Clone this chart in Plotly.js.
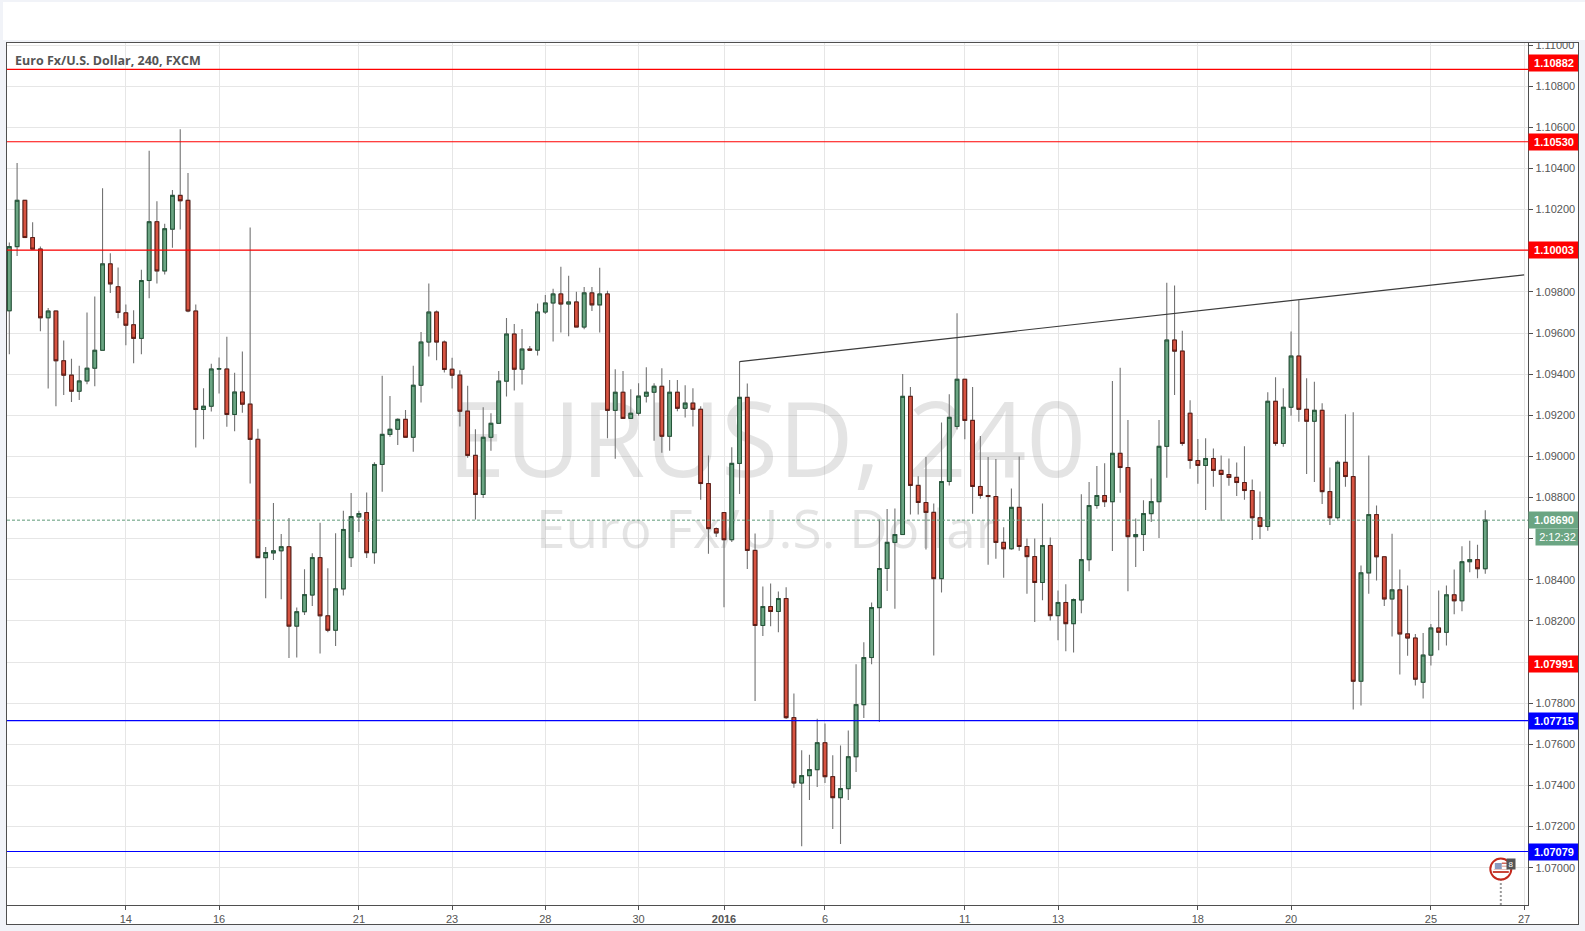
<!DOCTYPE html>
<html>
<head>
<meta charset="utf-8">
<script src="https://cdn.plot.ly/plotly-3.0.1.min.js"></script>
<style>
html,body{margin:0;padding:0;width:1585px;height:931px;overflow:hidden;background:#f1f3f8;}
#header{position:absolute;left:3px;top:2px;width:1582px;height:38px;background:#fff;}
#wrap{position:absolute;left:6px;top:43px;width:1572px;height:881px;background:#fff;overflow:hidden;}
#chart{width:1572px;height:881px;}
#frame{position:absolute;left:6px;top:42px;width:1571px;height:881px;border:1px solid #4f4f4f;pointer-events:none;}
</style>
</head>
<body>
<div id="header"></div>
<div id="wrap"><div id="chart"></div></div>
<div id="frame"></div>
<script>
const opens = [
1.09708,1.1002,1.10245,1.10064,1.10008,1.09674,1.09707,1.09465,1.09395,1.09317,
1.09367,1.09429,1.09516,1.09936,1.09825,1.09698,1.0964,1.09574,1.09855,1.10141,
1.09902,1.10105,1.10269,1.10245,1.09707,1.09228,1.09244,1.09425,1.09425,1.09204,
1.09313,1.09254,1.09083,1.08508,1.08531,1.08541,1.08561,1.08175,1.08245,1.08326,
1.08508,1.08225,1.08155,1.08356,1.08508,1.08706,1.08727,1.08532,1.08961,1.09107,
1.09132,1.0918,1.09093,1.09346,1.09556,1.09702,1.09556,1.09424,1.09395,1.0922,
1.09005,1.08815,1.09093,1.09161,1.09366,1.09595,1.09424,1.09522,1.09517,1.09702,
1.09746,1.0979,1.09741,1.09751,1.09629,1.09795,1.09737,1.0979,1.09224,1.09312,
1.09185,1.0921,1.09293,1.09312,1.09341,1.09098,1.09312,1.09234,1.09259,1.09229,
1.08868,1.08649,1.08727,1.08595,1.08966,1.09287,1.08543,1.08178,1.0827,1.08246,
1.08309,1.0773,1.07412,1.07448,1.07477,1.07608,1.07443,1.07341,1.07385,1.0754,
1.07793,1.08022,1.08265,1.08455,1.08582,1.0862,1.09292,1.08859,1.08776,1.08728,
1.08406,1.08878,1.09146,1.09375,1.09175,1.08854,1.0881,1.08805,1.08582,1.08551,
1.08752,1.08562,1.08513,1.08387,1.08567,1.08226,1.0829,1.08187,1.08302,1.08498,
1.08761,1.0881,1.0878,1.09015,1.08946,1.0861,1.0862,1.08722,1.0878,1.09049,
1.09566,1.09512,1.0921,1.0898,1.08956,1.0899,1.08932,1.08912,1.08898,1.08873,
1.08834,1.08702,1.08659,1.09268,1.09063,1.09239,1.09488,1.09229,1.09171,1.09224,
1.08829,1.08702,1.08971,1.08902,1.07907,1.08434,1.08717,1.08512,1.08307,1.08351,
1.08137,1.08117,1.07902,1.08034,1.08166,1.08145,1.08327,1.08298,1.08488,1.08498,
1.08454];
const highs = [
1.1004,1.10426,1.10245,1.10139,1.1002,1.09721,1.09707,1.09564,1.09475,1.09441,
1.097,1.09777,1.10304,1.09988,1.09918,1.09739,1.09711,1.09908,1.10486,1.10241,
1.10131,1.10295,1.10591,1.10378,1.09739,1.09331,1.09451,1.09481,1.09582,1.09407,
1.0951,1.10113,1.09134,1.08559,1.08774,1.08623,1.08701,1.08265,1.08452,1.08529,
1.08677,1.08456,1.08627,1.08736,1.08822,1.08736,1.08824,1.08972,1.09392,1.09294,
1.09185,1.09226,1.09441,1.09605,1.09841,1.09709,1.09563,1.0948,1.09419,1.09343,
1.09132,1.09239,1.0921,1.09415,1.09673,1.09644,1.0962,1.09537,1.09743,1.09785,
1.09815,1.09922,1.09878,1.098,1.09824,1.09824,1.09917,1.09805,1.09424,1.09415,
1.09327,1.09356,1.09434,1.09356,1.09429,1.09371,1.09371,1.09346,1.09332,1.09244,
1.09005,1.08654,1.08727,1.09044,1.09461,1.09355,1.08625,1.08367,1.08382,1.08343,
1.08364,1.07847,1.07571,1.0755,1.07725,1.07701,1.07547,1.07595,1.07668,1.07989,
1.08097,1.0829,1.08693,1.08744,1.08747,1.09401,1.09337,1.08904,1.08997,1.08771,
1.09165,1.09302,1.09696,1.09375,1.09337,1.09099,1.08997,1.08987,1.08656,1.08844,
1.09,1.08601,1.08601,1.08771,1.08606,1.08348,1.08379,1.08309,1.08816,1.08875,
1.08953,1.08967,1.09367,1.09431,1.09177,1.08698,1.08787,1.08893,1.09177,1.09844,
1.09831,1.09611,1.09273,1.09085,1.09088,1.09039,1.09005,1.0899,1.08971,1.09049,
1.08888,1.08829,1.09312,1.09385,1.09332,1.09607,1.09759,1.0938,1.09363,1.09259,
1.08946,1.0898,1.09205,1.09215,1.0847,1.09005,1.08761,1.08512,1.08624,1.0845,
1.08372,1.08137,1.08141,1.08185,1.08348,1.08372,1.0845,1.08563,1.0859,1.08571,
1.08738];
const lows = [
1.09497,1.09974,1.10064,1.10008,1.09608,1.0933,1.09244,1.09298,1.09264,1.09274,
1.09351,1.09341,1.09516,1.09795,1.09672,1.0954,1.09453,1.09497,1.09769,1.09841,
1.09885,1.10014,1.10103,1.09701,1.09043,1.09083,1.09218,1.09306,1.09144,1.09122,
1.09212,1.08868,1.08508,1.08311,1.08496,1.08305,1.0802,1.08022,1.08229,1.08273,
1.08042,1.08145,1.08078,1.08324,1.08462,1.08633,1.08506,1.08478,1.08828,1.09096,
1.09055,1.09093,1.09023,1.09262,1.09486,1.09467,1.09408,1.0933,1.09145,1.08993,
1.08693,1.08798,1.09028,1.09161,1.09291,1.0932,1.0935,1.09517,1.09491,1.09693,
1.09559,1.09603,1.09584,1.09629,1.09618,1.09707,1.09603,1.09088,1.08989,1.09185,
1.09185,1.09198,1.09262,1.09076,1.09018,1.09028,1.0922,1.09189,1.09145,1.08789,
1.08527,1.08608,1.08267,1.08584,1.08817,1.08453,1.07811,1.08127,1.08174,1.08145,
1.07723,1.07389,1.07105,1.07329,1.07393,1.07412,1.07188,1.07115,1.07329,1.07466,
1.07728,1.07989,1.07709,1.08346,1.08259,1.0862,1.08718,1.08718,1.08547,1.08032,
1.08338,1.08859,1.09131,1.09083,1.08721,1.08794,1.08473,1.08502,1.0841,1.08546,
1.08541,1.08332,1.08195,1.08301,1.08202,1.08106,1.08053,1.08047,1.08237,1.08442,
1.08745,1.08754,1.0854,1.08823,1.08345,1.08462,1.0854,1.08681,1.08603,1.08896,
1.09299,1.09052,1.0894,1.08867,1.0874,1.08852,1.08686,1.08857,1.08808,1.08789,
1.08594,1.08598,1.08639,1.09052,1.09047,1.09198,1.09169,1.08915,1.08876,1.08769,
1.08667,1.08693,1.08852,1.07769,1.07789,1.08332,1.08397,1.08273,1.08125,1.0794,
1.08031,1.07886,1.07823,1.07984,1.08057,1.08081,1.08233,1.08247,1.08437,1.08408,
1.08429];
const closes = [
1.1002,1.10245,1.10064,1.10008,1.09674,1.09707,1.09465,1.09395,1.09317,1.09367,
1.09429,1.09516,1.09936,1.09839,1.097,1.09638,1.09574,1.09855,1.10141,1.09902,
1.10107,1.10269,1.10243,1.09707,1.09228,1.09244,1.09425,1.09426,1.09204,1.09313,
1.09254,1.09083,1.08508,1.08533,1.08541,1.08561,1.08175,1.08245,1.08328,1.08508,
1.08225,1.08155,1.08356,1.08645,1.08708,1.08722,1.08532,1.08961,1.09107,1.09132,
1.0918,1.09093,1.09346,1.09556,1.09702,1.09556,1.09423,1.09395,1.0922,1.09005,
1.08815,1.09093,1.09161,1.09366,1.09595,1.09424,1.09522,1.09517,1.09702,1.09746,
1.0979,1.09741,1.09751,1.09629,1.09795,1.09737,1.0979,1.09224,1.09312,1.09185,
1.0921,1.09293,1.09312,1.09341,1.09098,1.09312,1.09234,1.09259,1.09229,1.08868,
1.08649,1.08628,1.08595,1.08966,1.09287,1.08543,1.08178,1.0827,1.08246,1.08309,
1.0773,1.07412,1.07448,1.07477,1.07608,1.07443,1.07341,1.07385,1.0754,1.07793,
1.08022,1.08265,1.08455,1.08582,1.0862,1.09292,1.08859,1.08776,1.08728,1.08406,
1.08878,1.0919,1.09375,1.09175,1.08854,1.0881,1.08805,1.08582,1.08551,1.08752,
1.08562,1.08513,1.08387,1.08567,1.08226,1.0829,1.08187,1.08304,1.08498,1.08761,
1.0881,1.0878,1.09015,1.08946,1.0861,1.0862,1.08722,1.0878,1.09049,1.09566,
1.09512,1.09063,1.0898,1.08956,1.0899,1.08932,1.08912,1.08898,1.08873,1.08834,
1.08702,1.08659,1.09268,1.09063,1.09239,1.09488,1.09229,1.09171,1.09224,1.08829,
1.08702,1.08971,1.08902,1.07907,1.08434,1.08717,1.08512,1.08307,1.08351,1.08137,
1.08117,1.07917,1.08034,1.08166,1.08145,1.08327,1.08298,1.08488,1.08498,1.08454,
1.0869];

const tickPositions = [15,27,45,57,69,81,92,105,123,135,153,165,183,195];
const tickLabels = ['14','16','21','23','28','30','<b>2016</b>','6','11','13','18','20','25','27'];
const priceTicks = [1.07,1.072,1.074,1.076,1.078,1.08,1.082,1.084,1.086,1.088,1.09,1.092,1.094,1.096,1.098,1.1,1.102,1.104,1.106,1.108,1.11];
const coveredPriceTicks = [1.08,1.086,1.1];

const resistanceLevels = [1.10882,1.1053,1.10003];
const supportLevels = [1.07715,1.07079];
const hiddenLevel = 1.07991;
const lastPrice = 1.0869;
const countdown = '2:12:32';
const trendBars = [94,195];
const trendPrices = [1.09461,1.09883];
const watermarkBars = [97.5,97.5];
const watermarkPrices = [1.09024,1.08618];
const watermarkTexts = ['EURUSD, 240','Euro Fx/U.S. Dollar'];
const watermarkSizes = [104,53];
const chartTitle = 'Euro Fx/U.S. Dollar, 240, FXCM';
const eventBar = 192;
const eventPrice = 1.06994;
const eventCount = '8';

const xRange = [-0.3,195.5];
const yRange = [1.06819,1.1101];
const barIndex = opens.map((_,i)=>i);
const bodyTops = opens.map((o,i)=>Math.max(o,closes[i]));
const bodyBottoms = opens.map((o,i)=>Math.min(o,closes[i]));

const GREEN='#6ba583',RED='#d75442',GREEN_D='#225437',RED_D='#5b1a13',WICK='#737373';
const labelFont = 'Liberation Sans, Arial, sans-serif';

function hline(level,color){
  return {type:'scatter',mode:'lines',xaxis:'x',yaxis:'y2',x:xRange,y:[level,level],
    line:{color:color,width:1.2},hoverinfo:'skip',showlegend:false};
}

const traces = [
 {type:'scatter',mode:'text',xaxis:'x',yaxis:'y',x:watermarkBars,y:watermarkPrices,text:watermarkTexts,
  textposition:'middle center',textfont:{family:'Open Sans, sans-serif',size:watermarkSizes,color:'rgba(120,120,120,0.2)'},
  hoverinfo:'skip',showlegend:false},
 {type:'candlestick',xaxis:'x',yaxis:'y2',x:barIndex,open:opens,high:highs,low:lows,close:closes,
  increasing:{line:{color:WICK,width:1.1},fillcolor:GREEN},
  decreasing:{line:{color:WICK,width:1.1},fillcolor:RED},
  whiskerwidth:0,hoverinfo:'skip',showlegend:false},
 {type:'candlestick',xaxis:'x',yaxis:'y2',x:barIndex,open:opens,high:bodyTops,low:bodyBottoms,close:closes,
  increasing:{line:{color:GREEN_D,width:1},fillcolor:GREEN},
  decreasing:{line:{color:RED_D,width:1},fillcolor:RED},
  whiskerwidth:0,hoverinfo:'skip',showlegend:false},
 ...resistanceLevels.map(l=>hline(l,'#ff0000')),
 ...supportLevels.map(l=>hline(l,'#0000ff')),
 {type:'scatter',mode:'lines',xaxis:'x',yaxis:'y2',x:xRange,y:[lastPrice,lastPrice],
  line:{color:'#5e9a78',width:1,dash:'3px,2px'},hoverinfo:'skip',showlegend:false},
 {type:'scatter',mode:'lines',xaxis:'x',yaxis:'y2',x:trendBars,y:trendPrices,
  line:{color:'#3c3c3c',width:1.2},hoverinfo:'skip',showlegend:false},
 {type:'scatter',mode:'lines',xaxis:'x',yaxis:'y2',x:[eventBar,eventBar],y:[yRange[0],eventPrice],
  line:{color:'#9a9a9a',width:2,dash:'2px,2px'},hoverinfo:'skip',showlegend:false},
 {type:'scatter',mode:'markers',xaxis:'x',yaxis:'y2',x:[eventBar],y:[eventPrice],
  marker:{size:21,color:'#ffffff',line:{color:'#c4281c',width:2}},hoverinfo:'skip',showlegend:false}
];

function priceBox(level,color,yshift){
  return {xref:'paper',yref:'y',x:1,y:level,xanchor:'left',yanchor:'middle',yshift:yshift||0,
    text:'<b>'+level.toFixed(5)+'</b>',showarrow:false,bgcolor:color,width:50,height:16,borderpad:0,
    align:'center',valign:'middle',font:{family:labelFont,size:11,color:'#ffffff'}};
}

const flagRect=(x0,x1,y0,y1,color)=>({type:'rect',xref:'x',yref:'y2',xsizemode:'pixel',ysizemode:'pixel',
  xanchor:eventBar,yanchor:eventPrice,x0,x1,y0,y1,fillcolor:color,line:{width:0},layer:'above'});

const layout = {
 width:1572,height:881,
 margin:{l:1,r:50,t:0,b:19,pad:0},
 paper_bgcolor:'#ffffff',plot_bgcolor:'#ffffff',
 showlegend:false,hovermode:false,dragmode:false,
 boxgap:0.32,
 font:{family:labelFont,size:11,color:'#555555'},
 xaxis:{range:xRange,tickmode:'array',tickvals:tickPositions,ticktext:tickLabels,
   showgrid:true,gridcolor:'#e6e6e6',gridwidth:1,zeroline:false,showline:true,linecolor:'#4f4f4f',linewidth:1.2,
   ticks:'outside',ticklen:4,tickcolor:'#4f4f4f',tickfont:{family:labelFont,size:11,color:'#555555'},
   ticklabeloverflow:'allow',rangeslider:{visible:false},fixedrange:true},
 yaxis:{range:yRange,side:'right',tickmode:'array',tickvals:priceTicks,
   ticktext:priceTicks.map(v=>coveredPriceTicks.includes(v)?'':v.toFixed(5)),
   showgrid:true,gridcolor:'#e6e6e6',gridwidth:1,zeroline:false,showline:true,linecolor:'#4f4f4f',linewidth:1.2,
   ticks:'outside',ticklen:4,tickcolor:'#4f4f4f',tickfont:{family:labelFont,size:11,color:'#555555'},
   ticklabeloverflow:'allow',fixedrange:true},
 yaxis2:{range:yRange,overlaying:'y',side:'right',visible:false,fixedrange:true},
 shapes:[
  flagRect(-6,1,0,6,'#8a9bc0'),
  flagRect(1,8,5,6.5,'#d0665a'),
  flagRect(1,8,2,3.5,'#e8b5ae'),
  flagRect(-7,7,-1,0,'#e8c5c0'),
  flagRect(-8,8,-4,-2,'#c9463a')
 ],
 annotations:[
  {xref:'paper',yref:'paper',x:0,y:1,xanchor:'left',yanchor:'top',xshift:6,yshift:-7,text:chartTitle,showarrow:false,
   font:{family:'Open Sans, sans-serif',size:12.5,color:'#555555',weight:700}},
  priceBox(resistanceLevels[0],'#ff0000',6.5),
  priceBox(resistanceLevels[1],'#ff0000'),
  priceBox(resistanceLevels[2],'#ff0000'),
  priceBox(lastPrice,GREEN),
  {xref:'paper',yref:'y',x:1,y:lastPrice,xanchor:'left',yanchor:'middle',xshift:7,yshift:-17,text:countdown,showarrow:false,
   bgcolor:GREEN,width:43,height:16,borderpad:0,align:'center',valign:'middle',font:{family:labelFont,size:11,color:'#ffffff'}},
  priceBox(hiddenLevel,'#ff0000'),
  priceBox(supportLevels[0],'#0000ff'),
  priceBox(supportLevels[1],'#0000ff'),
  {xref:'x',yref:'y2',x:eventBar,y:eventPrice,xshift:10,yshift:5,text:eventCount,showarrow:false,bgcolor:'#555555',
   width:8,height:10,borderpad:0,font:{family:labelFont,size:8,color:'#ffffff'}}
 ]
};
Plotly.newPlot('chart',traces,layout,{staticPlot:true,displayModeBar:false});
</script>
</body>
</html>
